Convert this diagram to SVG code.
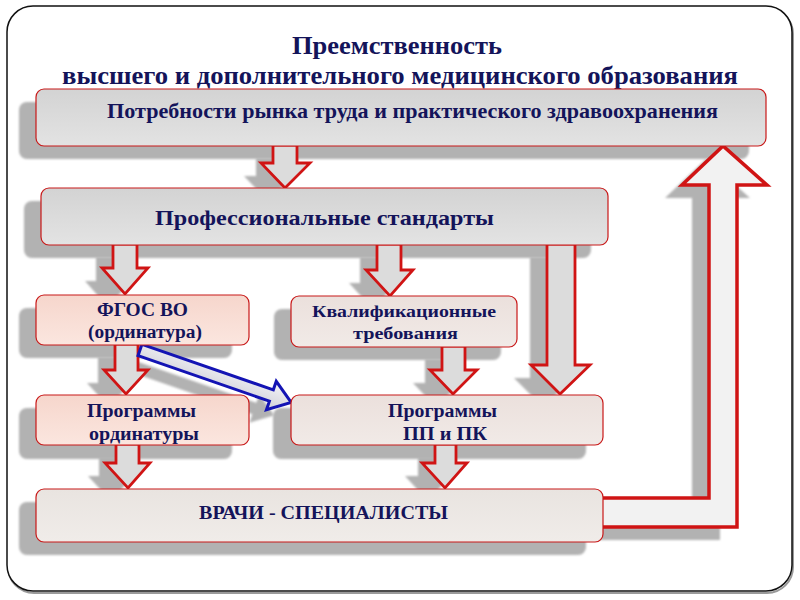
<svg xmlns="http://www.w3.org/2000/svg" width="800" height="600" viewBox="0 0 800 600">
<defs>
<style>
.t{font-family:"Liberation Serif","Times New Roman",serif;font-weight:bold;fill:#14145a;}
.box{stroke:#c81818;stroke-width:1.2;}
.arr{fill:#dcdcdc;stroke:#d01414;stroke-width:2.8;stroke-linejoin:miter;}
.sh{fill:#b2b2b2;filter:url(#blur);}
</style>
<filter id="blur" x="-10%" y="-10%" width="120%" height="120%"><feGaussianBlur stdDeviation="1.2"/></filter>
<linearGradient id="gGray" x1="0" y1="0" x2="0" y2="1"><stop offset="0" stop-color="#d3d3d3"/><stop offset="1" stop-color="#e3e3e3"/></linearGradient>
<linearGradient id="gPink" x1="0" y1="0" x2="0" y2="1"><stop offset="0" stop-color="#f6d6cc"/><stop offset="1" stop-color="#fbe6df"/></linearGradient>
<linearGradient id="gLight" x1="0" y1="0" x2="0" y2="1"><stop offset="0" stop-color="#ebe0dc"/><stop offset="1" stop-color="#f1eae7"/></linearGradient>
<linearGradient id="gVr" x1="0" y1="0" x2="0" y2="1"><stop offset="0" stop-color="#e9e4e0"/><stop offset="1" stop-color="#f0ece9"/></linearGradient>
<linearGradient id="gBlue" x1="0" y1="0" x2="0" y2="1"><stop offset="0" stop-color="#f4f4f8"/><stop offset="1" stop-color="#cfcfd8"/></linearGradient>
</defs>
<rect width="800" height="600" fill="#ffffff"/>
<!-- frame -->
<rect x="8" y="8" width="785" height="585" rx="26" fill="none" stroke="#9a9a9a" stroke-width="2"/>
<rect x="7" y="6" width="785" height="585" rx="26" fill="#ffffff" stroke="#111111" stroke-width="1.5"/>
<!-- title -->
<text class="t" x="292" y="54" font-size="26" textLength="210" lengthAdjust="spacingAndGlyphs">Преемственность</text>
<text class="t" x="62" y="84" font-size="26" textLength="676" lengthAdjust="spacingAndGlyphs">высшего и дополнительного медицинского образования</text>
<!-- shadows -->
<g id="shadows">
<rect class="sh" x="19" y="102" width="730" height="57" rx="8"/>
<rect class="sh" x="24" y="201" width="567" height="57" rx="8"/>
<rect class="sh" x="19" y="308" width="213" height="50" rx="8"/>
<rect class="sh" x="274" y="309" width="227" height="51" rx="8"/>
<rect class="sh" x="19" y="408" width="213" height="51" rx="8"/>
<rect class="sh" x="273" y="408" width="313" height="51" rx="8"/>
<rect class="sh" x="19" y="502" width="567" height="53" rx="8"/>
<g transform="translate(-17,13)">
<path class="sh" d="M273,145 V163 H261 L285,188 L310,163 H297 V145 Z"/>
<path class="sh" d="M113,244 V268 H102 L125,294 L148,268 H137 V244 Z"/>
<path class="sh" d="M377,244 V270 H366 L390,296 L413,270 H401 V244 Z"/>
<path class="sh" d="M547,244 V365 H531 L560,394 L590,365 H575 V244 Z"/>
<path class="sh" d="M115,344 V370 H104 L126,394 L148,370 H138 V344 Z"/>
<path class="sh" d="M442,346 V370 H430 L453,394 L477,370 H465 V346 Z"/>
<path class="sh" d="M116,444 V463 H105 L128,488 L150,463 H139 V444 Z"/>
<path class="sh" d="M435,444 V463 H422 L445,488 L467,463 H456 V444 Z"/>
<path class="sh" d="M600,498 H709 V185 H682 L723,146 L767,185 H737 V527 H600 Z"/>
<g transform="translate(140,350) rotate(19.1)"><path class="sh" d="M0,-6 H139 V-15 L160,0 L139,15 V6 H0 Z"/></g>
</g>
</g>
<!-- connectors -->
<g id="connectors">
<path class="arr" d="M273,145 V163 H261 L285,188 L310,163 H297 V145 Z"/>
<path class="arr" d="M113,244 V268 H102 L125,294 L148,268 H137 V244 Z"/>
<path class="arr" d="M377,244 V270 H366 L390,296 L413,270 H401 V244 Z"/>
<path class="arr" d="M547,244 V365 H531 L560,394 L590,365 H575 V244 Z"/>
<path class="arr" d="M115,344 V370 H104 L126,394 L148,370 H138 V344 Z"/>
<path class="arr" d="M442,346 V370 H430 L453,394 L477,370 H465 V346 Z"/>
<path class="arr" d="M116,444 V463 H105 L128,488 L150,463 H139 V444 Z"/>
<path class="arr" d="M435,444 V463 H422 L445,488 L467,463 H456 V444 Z"/>
<path d="M600,498 H709 V185 H682 L723,146 L767,185 H737 V527 H600 Z" fill="#f2f2f2" stroke="#d01414" stroke-width="3.5" stroke-linejoin="miter"/>
<g transform="translate(140,350) rotate(19.1)"><path d="M0,-6 H139 V-15 L160,0 L139,15 V6 H0 Z" fill="url(#gBlue)" stroke="#1414b4" stroke-width="3"/></g>
</g>
<!-- nodes -->
<g id="n-needs">
<rect class="box" x="36" y="89" width="730" height="57" rx="8" fill="url(#gGray)"/>
<text class="t" x="107" y="118" font-size="22" textLength="611" lengthAdjust="spacingAndGlyphs">Потребности рынка труда и практического здравоохранения</text>
</g>
<g id="n-standards">
<rect class="box" x="41" y="188" width="567" height="57" rx="8" fill="url(#gGray)"/>
<text class="t" x="155" y="225" font-size="21" textLength="339" lengthAdjust="spacingAndGlyphs">Профессиональные стандарты</text>
</g>
<g id="n-fgos">
<rect class="box" x="36" y="295" width="213" height="50" rx="8" fill="url(#gPink)"/>
<text class="t" x="97" y="316" font-size="18" textLength="91" lengthAdjust="spacingAndGlyphs">ФГОС ВО</text>
<text class="t" x="88" y="338" font-size="18" textLength="114" lengthAdjust="spacingAndGlyphs">(ординатура)</text>
</g>
<g id="n-qual">
<rect class="box" x="291" y="296" width="226" height="51" rx="8" fill="url(#gLight)"/>
<text class="t" x="312" y="317" font-size="16.5" textLength="184" lengthAdjust="spacingAndGlyphs">Квалификационные</text>
<text class="t" x="353" y="339" font-size="16.5" textLength="105" lengthAdjust="spacingAndGlyphs">требования</text>
</g>
<g id="n-prog-ord">
<rect class="box" x="36" y="395" width="213" height="50" rx="8" fill="url(#gPink)"/>
<text class="t" x="87" y="417" font-size="18.5" textLength="109" lengthAdjust="spacingAndGlyphs">Программы</text>
<text class="t" x="89" y="440" font-size="18.5" textLength="110" lengthAdjust="spacingAndGlyphs">ординатуры</text>
</g>
<g id="n-prog-pp">
<rect class="box" x="291" y="395" width="312" height="50" rx="8" fill="url(#gLight)"/>
<text class="t" x="388" y="417" font-size="18.5" textLength="109" lengthAdjust="spacingAndGlyphs">Программы</text>
<text class="t" x="403" y="440" font-size="18.5" textLength="84" lengthAdjust="spacingAndGlyphs">ПП и ПК</text>
</g>
<g id="n-doctors">
<rect class="box" x="36" y="489" width="567" height="53" rx="8" fill="url(#gVr)"/>
<text class="t" x="199" y="519" font-size="19" textLength="249" lengthAdjust="spacingAndGlyphs">ВРАЧИ - СПЕЦИАЛИСТЫ</text>
</g>
</svg>
